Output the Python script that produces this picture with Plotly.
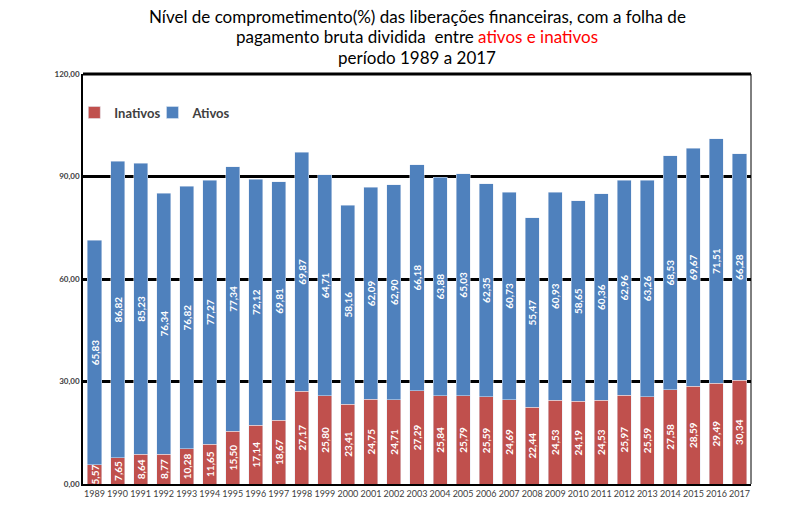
import plotly.graph_objects as go

years = [str(y) for y in range(1989, 2018)]
inativos = [5.57, 7.65, 8.64, 8.77, 10.28, 11.65, 15.50, 17.14, 18.67, 27.17,
            25.80, 23.41, 24.75, 24.71, 27.29, 25.84, 25.79, 25.59, 24.69, 22.44,
            24.53, 24.19, 24.53, 25.97, 25.59, 27.58, 28.59, 29.49, 30.34]
ativos = [65.83, 86.82, 85.23, 76.34, 76.82, 77.27, 77.34, 72.12, 69.81, 69.87,
          64.71, 58.16, 62.09, 62.90, 66.18, 63.88, 65.03, 62.35, 60.73, 55.47,
          60.93, 58.65, 60.36, 62.96, 63.26, 68.53, 69.67, 71.51, 66.28]
y_ticks = [0, 30, 60, 90, 120]
y_tick_labels = ["0,00", "30,00", "60,00", "90,00", "120,00"]
title_lines = [
    "Nível de comprometimento(%) das liberações financeiras, com a folha de",
    "pagamento bruta dividida  entre <span style='color:#FF0000'>ativos e inativos</span>",
    "período 1989 a 2017",
]

def fmt(v):
    return f"{v:.2f}".replace(".", ",")

FONT = "Lato, 'Open Sans', sans-serif"

fig = go.Figure()
fig.add_trace(go.Bar(
    x=years, y=inativos, name="Inativos", marker_color="#C0504D",
    text=[fmt(v) for v in inativos], textposition="inside", textangle=-90,
    insidetextanchor="middle", legend="legend",
    textfont=dict(color="white", size=10, family=FONT, weight="bold"),
))
fig.add_trace(go.Bar(
    x=years, y=ativos, name="Ativos", marker_color="#4F81BD",
    text=[fmt(v) for v in ativos], textposition="inside", textangle=-90,
    insidetextanchor="middle", legend="legend2",
    textfont=dict(color="white", size=10, family=FONT, weight="bold"),
))

legend_style = dict(
    orientation="h", y=0.906, xanchor="left", yanchor="middle",
    font=dict(family=FONT, size=13, color="#404040", weight="bold"),
    bgcolor="rgba(0,0,0,0)",
)
fig.update_layout(
    barmode="stack",
    bargap=0.39,
    width=805, height=511,
    margin=dict(l=83, r=54, t=74, b=27),
    paper_bgcolor="white", plot_bgcolor="white",
    uniformtext=dict(minsize=10, mode="show"),
    legend=dict(x=-0.013, **legend_style),
    legend2=dict(x=0.104, **legend_style),
    showlegend=True,
)
for i, line in enumerate(title_lines):
    fig.add_annotation(
        text=line, xref="paper", yref="paper", x=0.5, xanchor="center",
        y=(484 - (16 + 21 * i)) / 410,
        yanchor="middle", showarrow=False,
        font=dict(family=FONT, size=17, color="black"),
    )
fig.update_xaxes(
    type="category", showline=True, linecolor="black", linewidth=2,
    mirror=False, ticks="", tickfont=dict(family=FONT, size=9, color="#404040"),
    showgrid=False,
)
fig.update_yaxes(
    range=[0, 120], tickvals=y_ticks, ticktext=y_tick_labels,
    showgrid=True, gridcolor="black", gridwidth=3,
    showline=True, linecolor="black", linewidth=1.5, mirror=False,
    zeroline=False, ticks="", ticklen=0,
    tickfont=dict(family=FONT, size=8, color="#404040", weight="bold"),
)
fig.add_shape(type="line", xref="paper", yref="paper", x0=1, x1=1, y0=0, y1=1,
              line=dict(color="black", width=1))
fig.add_shape(type="line", xref="paper", yref="paper", x0=0, x1=1, y0=1, y1=1,
              line=dict(color="black", width=3))

fig.write_html(
    "out.html",
    config={"displayModeBar": False},
    post_script="document.body.style.margin='0';document.body.style.overflow='hidden';",
)
